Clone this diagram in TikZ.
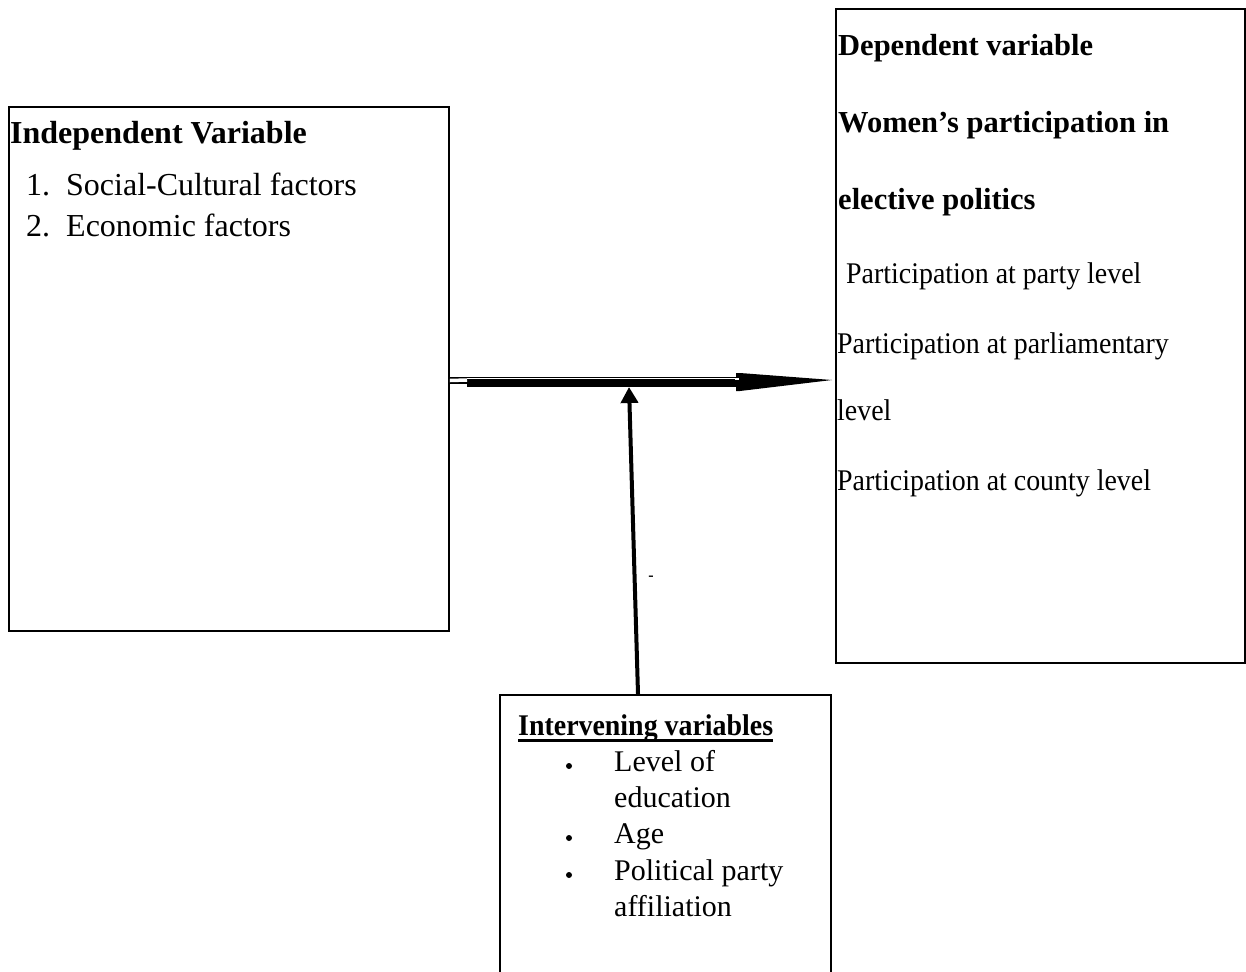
\documentclass[tikz,border=0pt]{standalone}
\usepackage{fontspec}
\setmainfont{Liberation Serif}
\newfontfamily\narrowserif[FakeStretch=0.93]{Liberation Serif}
\usetikzlibrary{arrows.meta}
\begin{document}
\begin{tikzpicture}[x=1pt,y=-1pt,
  box/.style={draw, line width=1.9pt, inner sep=0pt, anchor=north west},
  txt/.style={anchor=base west, inner sep=0pt, font=\fontsize{32}{38}\selectfont},
  btxt/.style={txt, font=\fontsize{32}{38}\selectfont\bfseries},
  rtxt/.style={anchor=base west, inner sep=0pt, font=\fontsize{30}{36}\selectfont\narrowserif},
  rbtxt/.style={anchor=base west, inner sep=0pt, font=\fontsize{30.5}{36}\selectfont\bfseries},
  itxt/.style={anchor=base west, inner sep=0pt, font=\fontsize{30}{36}\selectfont},
  dot/.style={circle, fill=black, inner sep=0pt, minimum size=6pt}
]
\useasboundingbox (0,0) rectangle (1246,971);

% boxes
\node[box, minimum width=440pt, minimum height=524pt] (indep) at (8,106) {};
\node[box, minimum width=409pt, minimum height=654pt] (dep) at (835,8) {};
\node[box, minimum width=331pt, minimum height=320pt] (interv) at (499,694) {};

% independent variable text
\node[btxt] (ih) at (10,143) {Independent Variable};
\node[txt] (i1n) at (26,195) {1.};
\node[txt] (i1) at (66,195) {Social-Cultural factors};
\node[txt] (i2n) at (26,236) {2.};
\node[txt] (i2) at (66,236) {Economic factors};

% dependent variable text
\node[rbtxt] (dh1) at (838,56) {Dependent variable};
\node[rbtxt] (dh2) at (838,132) {Women’s participation in};
\node[rbtxt] (dh3) at (838,209) {elective politics};
\node[rtxt] (d1) at (846,283) {Participation at party level};
\node[rtxt] (d2) at (837,353) {Participation at parliamentary};
\node[rtxt] (d3) at (837,420) {level};
\node[rtxt] (d4) at (837,490) {Participation at county level};

% intervening variables text
\node[itxt, font=\fontsize{30}{36}\selectfont\bfseries\narrowserif] (vh) at (518,735) {Intervening variables};
\draw[line width=3pt] (vh.west |- 0,740) -- (vh.east |- 0,740);
\node[dot] (b1) at (569,766) {};
\node[itxt] (v1) at (614,771) {Level of};
\node[itxt] (v1b) at (614,807) {education};
\node[dot] (b2) at (569,838) {};
\node[itxt] (v2) at (614,843) {Age};
\node[dot] (b3) at (569,875) {};
\node[itxt] (v3) at (614,880) {Political party};
\node[itxt] (v3b) at (614,916) {affiliation};

% stray dash
\node[inner sep=0pt, font=\fontsize{16}{16}\selectfont\bfseries] (dash) at (651,578) {-};

% horizontal arrow (composite)
\coordinate (hy) at (0,380.5);
\coordinate (hitp) at (629,387);
\draw[line width=9pt] (467,382.5) -- (740,382.5);
\draw[line width=7pt] (indep.east |- hy) -- (740,380.5);
\draw[line width=3.5pt, white] (indep.east |- hy) -- (467,380);
\draw[line width=0.9pt, white] (467,378.6) -- (737,378.6);
\fill[black] (736,373) -- (740,373) -- (832,380) -- (740,391) -- (736,391) -- cycle;
\fill[white] (735,377.5) rectangle (738.5,380);

% vertical arrow
\draw[line width=4pt, -{Triangle[length=16pt,width=17pt]}] (interv.north -| 638,0) -- (hitp);
\end{tikzpicture}
\end{document}
